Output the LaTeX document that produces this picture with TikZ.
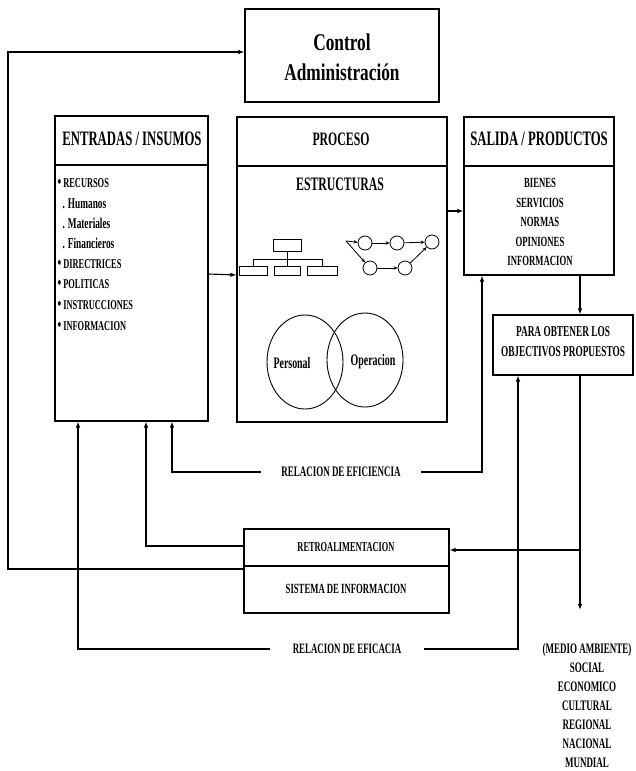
\documentclass[tikz,border=0pt]{standalone}
\usepackage{fontspec}
\setmainfont{Liberation Serif}
\newfontfamily\cnd[FakeStretch=0.62]{Liberation Serif}
\newfontfamily\cndw[FakeStretch=0.72]{Liberation Serif}
\usetikzlibrary{arrows.meta,shapes.geometric}
\newcommand\txtsize[1]{\fontsize{#1}{#1}\selectfont}
\newcommand\blt{{\fontsize{17}{17}\selectfont\textbullet}}

\begin{document}
\begin{tikzpicture}[x=1pt,y=-1pt,line width=1.1pt,
  arr/.style={-{Latex[length=6pt,width=4.5pt]}},
  small arr/.style={line width=0.8pt,-{Stealth[length=4pt,width=3.5pt]}},
  box/.style={draw,inner sep=0pt},
  lbl/.style={inner sep=0pt,font=\cnd\bfseries},
  item/.style={lbl,anchor=base west,font=\cnd\bfseries\txtsize{13.5}},
  sub/.style={lbl,anchor=base west,font=\cnd\bfseries\txtsize{15}},
  node circ/.style={draw,circle,minimum size=14pt,inner sep=0pt,line width=0.8pt},
  org/.style={draw,inner sep=0pt,line width=0.8pt}]
\useasboundingbox (0,0) rectangle (635,771);

% main boxes
\node[box,minimum width=194pt,minimum height=93pt] (ctrl) at (342,55.5) {};
\node[box,minimum width=153pt,minimum height=305pt] (ent) at (131.5,268.5) {};
\node[box,minimum width=210pt,minimum height=305pt] (pro) at (342,269.5) {};
\node[box,minimum width=150pt,minimum height=158pt] (sal) at (539,196) {};
\node[box,minimum width=140pt,minimum height=60pt] (para) at (563,345) {};
\node[box,minimum width=205pt,minimum height=84pt] (sis) at (346.5,571) {};

% header rules
\draw (ent.west |- 0,165) -- (ent.east |- 0,165);
\draw (pro.west |- 0,166) -- (pro.east |- 0,166);
\draw (sal.west |- 0,166) -- (sal.east |- 0,166);
\draw (sis.west |- 0,566) -- (sis.east |- 0,566);

% box texts
\node[lbl,align=center,font=\cndw\bfseries\txtsize{24}] (ctrlt) at (342,57)
  {Control\\[6pt]Administración};
\node[lbl,font=\cnd\bfseries\txtsize{20.5}] (entt) at (132,139) {ENTRADAS / INSUMOS};
\node[lbl,font=\cnd\bfseries\txtsize{19}] (prot) at (341,139) {PROCESO};
\node[lbl,font=\cnd\bfseries\txtsize{20.5}] (salt) at (539,139) {SALIDA / PRODUCTOS};
\node[lbl,font=\cnd\bfseries\txtsize{19}] (estr) at (340,184) {ESTRUCTURAS};
\node[lbl,align=center,font=\cnd\bfseries\txtsize{14}] (salist) at (540,222)
  {BIENES\\[5.5pt]SERVICIOS\\[5.5pt]NORMAS\\[5.5pt]OPINIONES\\[5.5pt]INFORMACION};
\node[lbl,align=center,font=\cnd\bfseries\txtsize{15}] (parat) at (563,342)
  {PARA OBTENER LOS\\[5pt]OBJECTIVOS PROPUESTOS};
\node[lbl,font=\cnd\bfseries\txtsize{13.5}] (retro) at (346,547) {RETROALIMENTACION};
\node[lbl,font=\cnd\bfseries\txtsize{14}] (sist) at (346,589) {SISTEMA DE INFORMACION};

% inputs list
\node[item] (i1) at (57,187) {\blt\ RECURSOS};
\node[sub] (i2) at (62,208) {. Humanos};
\node[sub] (i3) at (62,228) {. Materiales};
\node[sub] (i4) at (62,248) {. Financieros};
\node[item] (i5) at (57,268) {\blt\ DIRECTRICES};
\node[item] (i6) at (57,288) {\blt\ POLITICAS};
\node[item] (i7) at (57,309) {\blt\ INSTRUCCIONES};
\node[item] (i8) at (57,330) {\blt\ INFORMACION};

% organisation chart
\node[org,minimum width=28pt,minimum height=12pt] (oc0) at (287,245) {};
\node[org,minimum width=28pt,minimum height=9pt] (oc1) at (253,270.5) {};
\node[org,minimum width=26pt,minimum height=9pt] (oc2) at (287,270.5) {};
\node[org,minimum width=30pt,minimum height=9pt] (oc3) at (322,270.5) {};
\draw[line width=0.8pt] (oc0.south) -- (oc2.north);
\draw[line width=0.8pt] (oc1.north) -- (oc1.north |- 0,259) -- (oc3.north |- 0,259) -- (oc3.north);

% activity network
\coordinate (st) at (346,241);
\node[node circ] (n1) at (365,243) {};
\node[node circ] (n2) at (397,243) {};
\node[node circ] (n3) at (432,242) {};
\node[node circ] (n4) at (370,268) {};
\node[node circ] (n5) at (405,268) {};
\draw[small arr] (st) -- (n1);
\draw[small arr] (st) -- (n4);
\draw[small arr] (n1) -- (n2);
\draw[small arr] (n2) -- (n3);
\draw[small arr] (n4) -- (n5);
\draw[small arr] (n5) -- (n3);

% personal / operation
\node[draw,ellipse,minimum width=76pt,minimum height=94pt,inner sep=0pt,line width=0.9pt] (vp) at (305,362) {};
\node[draw,ellipse,minimum width=76pt,minimum height=94pt,inner sep=0pt,line width=0.9pt] (vo) at (365,360) {};
\node[lbl,font=\cnd\bfseries\txtsize{16}] (vpt) at (292,363) {Personal};
\node[lbl,font=\cnd\bfseries\txtsize{16}] (vot) at (373,362) {Operacion};

% relation labels
\node[lbl,inner xsep=20pt,font=\cnd\bfseries\txtsize{14.5}] (efi) at (341,472) {RELACION DE EFICIENCIA};
\node[lbl,inner xsep=22pt,font=\cnd\bfseries\txtsize{14.3}] (efa) at (347,649) {RELACION DE EFICACIA};
\node[lbl,anchor=north,align=center,font=\cnd\bfseries\txtsize{14.5}] (medio) at (587,643)
  {(MEDIO AMBIENTE)\\[4.5pt]SOCIAL\\[4.5pt]ECONOMICO\\[4.5pt]CULTURAL\\[4.5pt]REGIONAL\\[4.5pt]NACIONAL\\[4.5pt]MUNDIAL};

% flow connectors
\draw[arr] ([yshift=-5.5pt]ent.east) -- ([yshift=-5.5pt]pro.west);
\draw[arr] ([yshift=58.5pt]pro.east) -- ([yshift=-15pt]sal.west);
\draw[arr] (sal.south -| 580,0) -- (para.north -| 580,0);
\coordinate (down) at (580,610);
\draw[arr] (para.south -| 580,0) -- (down);
\draw[arr] (580,550) -- ([yshift=21pt]sis.east);

% feedback connectors
\draw[arr] ([yshift=2pt]sis.west) -| (8,52) -- ([yshift=3.5pt]ctrl.west);
\draw[arr] ([yshift=25pt]sis.west) -| (ent.south -| 146,0);
\draw[arr] (efi.west) -| (ent.south -| 172,0);
\draw[arr] (efi.east) -| (sal.south -| 482,0);
\draw[arr] (efa.west) -| (ent.south -| 78,0);
\draw[arr] (efa.east) -| (para.south -| 518,0);
\end{tikzpicture}
\end{document}
